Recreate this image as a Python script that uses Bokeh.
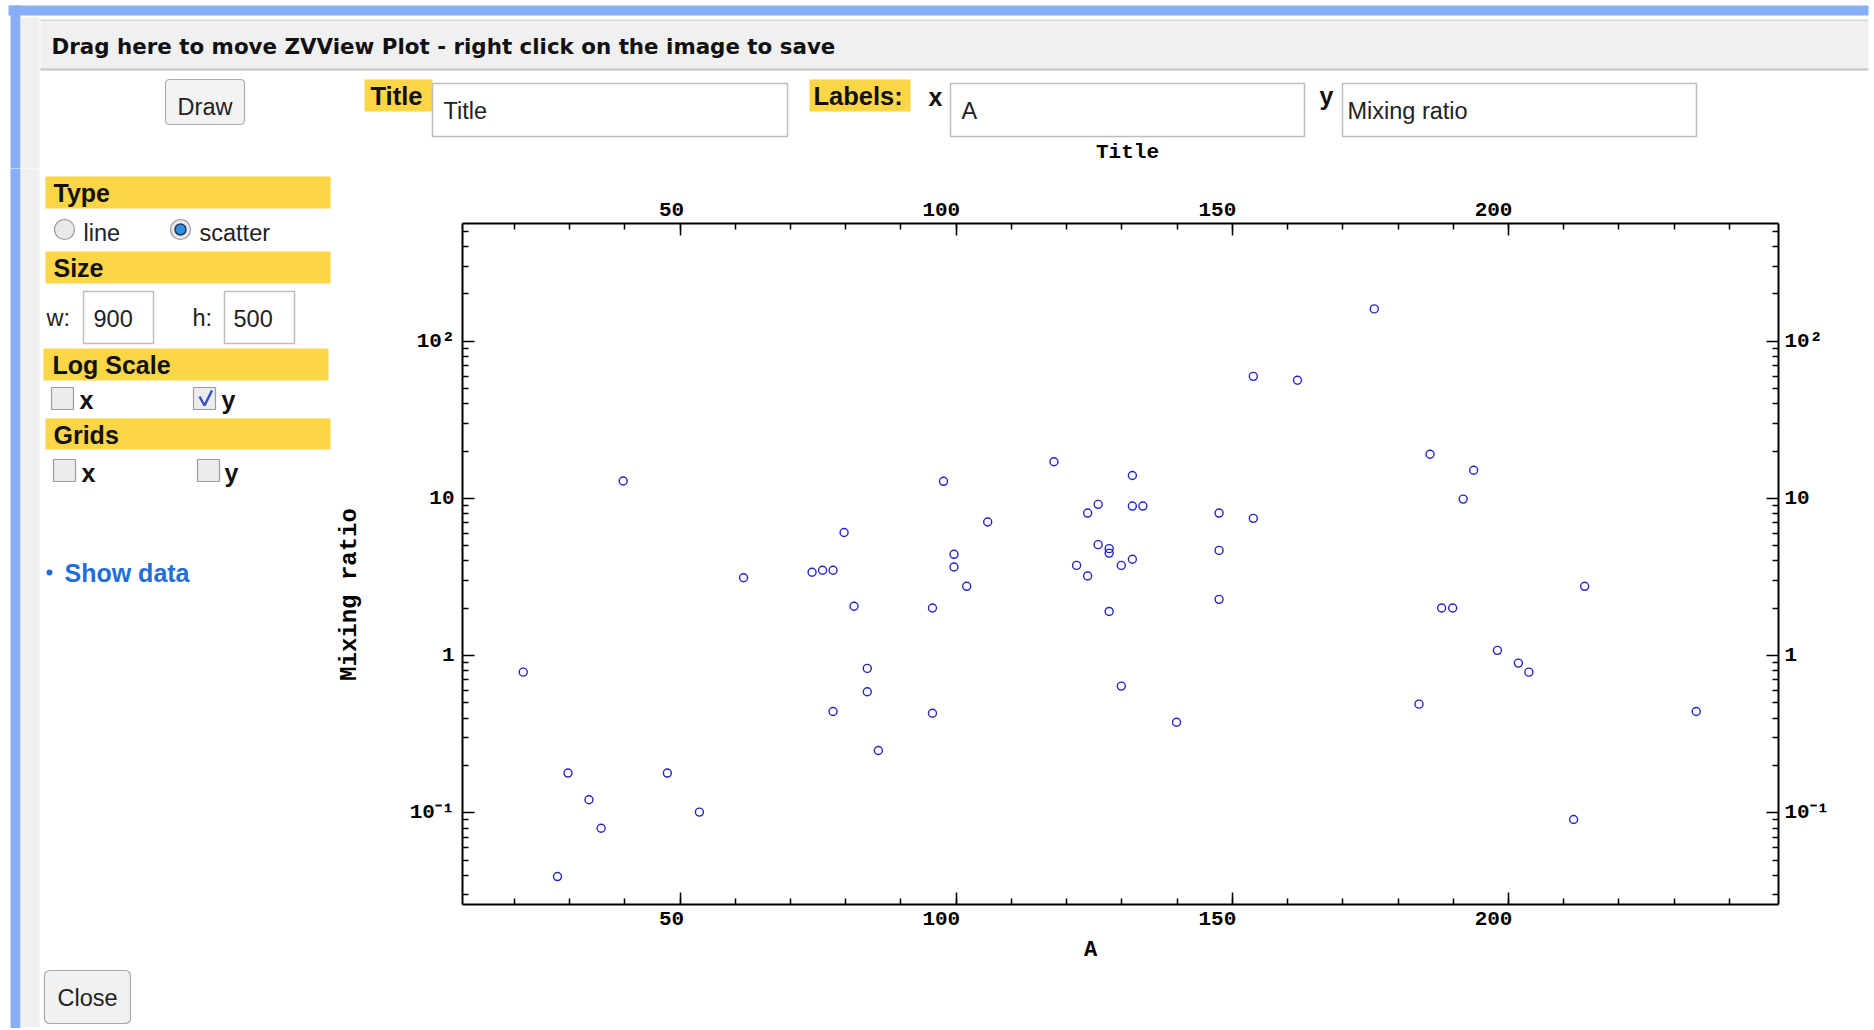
from math import pi
from bokeh.plotting import figure
from bokeh.models import Range1d, LinearAxis, LogAxis, FixedTicker
from bokeh.layouts import column, row
from bokeh.core.properties import value
from bokeh.embed import file_html
from bokeh.resources import INLINE

# ---------------- data ----------------
A_VALUES = [21.6, 27.8, 29.7, 33.5, 35.7, 39.7, 47.7, 53.5, 61.5, 73.9,
            75.8, 77.7, 77.7, 79.7, 81.5, 83.9, 83.9, 85.9, 95.7, 95.7,
            97.7, 99.6, 99.6, 101.9, 105.7, 117.7, 121.8, 123.8, 123.8, 125.7,
            125.7, 127.7, 127.7, 127.7, 129.9, 129.9, 131.9, 131.9, 131.9, 133.8,
            139.9, 147.6, 147.6, 147.6, 153.8, 153.8, 161.8, 175.7, 183.8, 185.8,
            187.9, 189.9, 191.8, 193.7, 198.0, 201.8, 203.7, 211.8, 213.8, 234.0]
MIXING_RATIO = [0.785, 0.0393, 0.179, 0.121, 0.0798, 12.9, 0.179, 0.101, 3.13, 3.39,
                3.49, 3.49, 0.441, 6.07, 2.06, 0.829, 0.589, 0.249, 2.01, 0.43,
                12.85, 4.41, 3.66, 2.76, 7.08, 17.1, 3.75, 8.07, 3.21, 9.17,
                5.08, 4.79, 4.49, 1.91, 3.75, 0.64, 14.0, 8.94, 4.1, 8.94,
                0.377, 8.07, 4.67, 2.28, 59.8, 7.47, 56.5, 160.6, 0.491, 19.1,
                2.01, 2.01, 9.9, 15.1, 1.08, 0.896, 0.785, 0.0906, 2.76, 0.441]

X_MAJOR_TICKS = [50, 100, 150, 200]
X_TICK_LABELS = ["50", "100", "150", "200"]
X_MINOR_TICKS = [20, 30, 40, 50, 60, 70, 80, 90, 100, 110, 120, 130, 140, 150,
                 160, 170, 180, 190, 200, 210, 220, 230, 240]
Y_MAJOR_TICKS = [0.1, 1, 10, 100]
Y_TICK_LABELS = ["10\u207b\u00b9", "1", "10", "10\u00b2"]
Y_MINOR_TICKS = [0.03, 0.04, 0.05, 0.06, 0.07, 0.08, 0.09,
                 0.2, 0.3, 0.4, 0.5, 0.6, 0.7, 0.8, 0.9,
                 2, 3, 4, 5, 6, 7, 8, 9,
                 20, 30, 40, 50, 60, 70, 80, 90,
                 200, 300, 400, 500]
X_RANGE = (10.6, 248.9)
Y_RANGE = (0.0261, 561)

PLOT_TITLE = "Title"
X_LABEL = "A"
Y_LABEL = "Mixing ratio"

# ---------------- styling constants ----------------
SANS = "Liberation Sans"
WIDE = "DejaVu Sans"
MONO = "Liberation Mono"
YELLOW = "#fcd646"
BLUE_FRAME = "#87aef7"
PANEL_GRAY = "#f0f0f0"
POINT_BLUE = "#2424c8"
REG = 23.5   # regular widget text size
HEAD = 25    # bold label text size
TICK_FONT = 21
FRAME_W, FRAME_H = 1316, 681


def ui_fig(x0, y0, w, h):
    f = figure(width=w, height=h, x_range=Range1d(x0, x0 + w), y_range=Range1d(y0 + h, y0),
               output_backend="svg", toolbar_location=None,
               x_axis_location=None, y_axis_location=None,
               min_border=0, min_border_left=0, min_border_right=0,
               min_border_top=0, min_border_bottom=0)
    f.grid.visible = False
    f.outline_line_color = None
    f.background_fill_color = "white"
    f.border_fill_color = "white"
    return f


def Q(f, l, r, t, b, fill, line=None, lw=1.0, radius=0):
    kw = dict(left=[l], right=[r], top=[t], bottom=[b], fill_color=fill,
              line_color=line, line_width=lw)
    if radius:
        kw["border_radius"] = radius
    f.quad(**kw)


def T(f, x, y, s, size=REG, bold=False, color="#222222", align="left", font=SANS, angle=0.0):
    f.text(x=[x], y=[y], text=[s], text_font=value(font), text_font_size=value(f"{size}px"),
           text_font_style="bold" if bold else "normal", text_color=color,
           text_align=align, text_baseline="middle", angle=angle)


def frame_strips(f):
    Q(f, 10, 20, 5, 1030, BLUE_FRAME)
    Q(f, 20, 39, 17, 1027, PANEL_GRAY)


def checkbox(f, l, t, checked=False):
    Q(f, l, l + 22, t, t + 22, "#ececec", "#9c9c9c", 1.2)
    if checked:
        f.line(x=[l + 6, l + 11, l + 18.5], y=[t + 9, t + 18, t + 3], line_color="#3553c4", line_width=2.5)


def radio(f, x, y, selected=False):
    f.scatter(x=[x], y=[y], marker="circle", size=20, fill_color="#e9e9e9",
              line_color="#9a9a9a", line_width=1.2)
    if selected:
        f.scatter(x=[x], y=[y], marker="circle", size=11, fill_color="#2f8fe0",
                  line_color="#203a60", line_width=1.5)


# ---------------- top strip: window title bar + inputs ----------------
top = ui_fig(0, 0, 1870, 168)
Q(top, 8, 1868, 5, 15, BLUE_FRAME)
frame_strips(top)
Q(top, 40, 1868, 19.5, 69, PANEL_GRAY)
top.line(x=[40, 1868], y=[19.8, 19.8], line_color="#d6d6d6", line_width=1.5)
top.line(x=[40, 1868], y=[69, 69], line_color="#c4c4c4", line_width=2)
T(top, 51, 45.5, "Drag here to move ZVView Plot - right click on the image to save", size=21.4, bold=True,
  color="#111111", font=WIDE)

Q(top, 165, 244, 79, 124, "#f3f3f3", "#a9a9a9", 1.2, radius=4)
T(top, 204.5, 106, "Draw", align="center")

Q(top, 364, 432, 79, 111, YELLOW)
T(top, 370, 95, "Title", size=HEAD + 0.5, bold=True, color="#111111")
Q(top, 432, 787, 83, 136, "white", "#bcbcbc", 1.5)
T(top, 443, 110, "Title")

Q(top, 809, 910, 79, 111, YELLOW)
T(top, 813, 95, "Labels:", size=HEAD + 0.5, bold=True, color="#111111")
T(top, 928, 96, "x", size=HEAD, bold=True, color="#111111")
Q(top, 950, 1304, 83, 136, "white", "#bcbcbc", 1.5)
T(top, 961, 110, "A")
T(top, 1319, 95, "y", size=HEAD, bold=True, color="#111111")
Q(top, 1342, 1696, 83, 136, "white", "#bcbcbc", 1.5)
T(top, 1347, 110, "Mixing ratio")

T(top, 1127, 152, PLOT_TITLE, size=21, bold=True, color="#000000", align="center", font=MONO)

# ---------------- left control panel ----------------
left = ui_fig(0, 168, 368, 860)
frame_strips(left)

Q(left, 45, 330, 176, 208, YELLOW)
T(left, 53, 192, "Type", size=HEAD, bold=True, color="#111111")
radio(left, 64, 229)
T(left, 83, 232, "line")
radio(left, 180, 229, selected=True)
T(left, 199, 232, "scatter")

Q(left, 45, 330, 251, 283, YELLOW)
T(left, 53, 267, "Size", size=HEAD, bold=True, color="#111111")
T(left, 46, 317, "w:")
Q(left, 83, 153, 291, 343, "white", "#bcbcbc", 1.5)
T(left, 93, 317.5, "900")
T(left, 192, 317, "h:")
Q(left, 224, 294, 291, 343, "white", "#bcbcbc", 1.5)
T(left, 233, 317.5, "500")

Q(left, 43, 328, 348, 380, YELLOW)
T(left, 52, 364, "Log Scale", size=HEAD, bold=True, color="#111111")
checkbox(left, 51, 387)
T(left, 79, 399, "x", size=HEAD, bold=True, color="#111111")
checkbox(left, 193, 387, checked=True)
T(left, 221, 399, "y", size=HEAD, bold=True, color="#111111")

Q(left, 45, 330, 418, 449, YELLOW)
T(left, 53, 434, "Grids", size=HEAD, bold=True, color="#111111")
checkbox(left, 53, 459)
T(left, 81, 472, "x", size=HEAD, bold=True, color="#111111")
checkbox(left, 197, 459)
T(left, 224, 472, "y", size=HEAD, bold=True, color="#111111")

left.scatter(x=[49], y=[572], marker="circle", size=6, fill_color="#1e6fd9", line_color=None)
T(left, 64, 572, "Show data", size=HEAD, bold=True, color="#1e6fd9")

T(left, 349, 594, Y_LABEL, size=24, bold=True, color="#000000", align="center", font=MONO, angle=pi / 2)

Q(left, 44, 130, 970, 1023, "#f1f1f1", "#a9a9a9", 1.2, radius=5)
T(left, 87, 997, "Close", align="center")

# ---------------- scatter plot ----------------
xt = FixedTicker(ticks=X_MAJOR_TICKS, minor_ticks=X_MINOR_TICKS)
yt = FixedTicker(ticks=Y_MAJOR_TICKS, minor_ticks=Y_MINOR_TICKS)

p = figure(width=1502, height=770, x_range=Range1d(*X_RANGE), y_range=Range1d(*Y_RANGE),
           y_axis_type="log", output_backend="svg", toolbar_location=None,
           min_border_left=94, min_border_right=92, min_border_top=55, min_border_bottom=34)
p.add_layout(LinearAxis(), "above")
p.add_layout(LogAxis(), "right")
p.grid.visible = False
p.outline_line_color = None
p.background_fill_color = "white"
p.border_fill_color = "white"


def style_axis(ax):
    ax.axis_line_color = "black"
    ax.axis_line_width = 2
    ax.major_tick_line_color = "black"
    ax.major_tick_line_width = 1.5
    ax.minor_tick_line_color = "black"
    ax.minor_tick_line_width = 1.5
    ax.major_tick_in = 12
    ax.major_tick_out = 0
    ax.minor_tick_in = 6
    ax.minor_tick_out = 0
    ax.major_label_text_font = MONO
    ax.major_label_text_font_style = "bold"
    ax.major_label_text_font_size = f"{TICK_FONT}px"
    ax.major_label_text_color = "black"


for ax in p.axis:
    style_axis(ax)

# y axes: ticks + labels
for ax in p.yaxis:
    ax.ticker = yt
    ax.major_label_overrides = dict(zip(Y_MAJOR_TICKS, Y_TICK_LABELS))
p.left[0].major_label_standoff = 8
p.right[0].major_label_standoff = 6

# x axes: tick marks on the frame; the labels sit (as in the reference) right-aligned
# just past each tick, drawn by an outer label-only axis.
for ax in p.xaxis:
    ax.ticker = xt
    ax.major_label_overrides = {t: "" for t in X_MAJOR_TICKS}
    ax.major_label_text_font_size = "1px"
    ax.major_label_standoff = 0

px_per_unit = FRAME_W / (X_RANGE[1] - X_RANGE[0])
char_w = 0.6 * TICK_FONT
label_pos = [t + (4 - 0.5 * len(s) * char_w) / px_per_unit for t, s in zip(X_MAJOR_TICKS, X_TICK_LABELS)]
for loc, standoff in (("below", 7), ("above", 8)):
    lab = LinearAxis(ticker=FixedTicker(ticks=label_pos, minor_ticks=[]),
                     major_label_overrides=dict(zip(label_pos, X_TICK_LABELS)))
    style_axis(lab)
    lab.axis_line_color = None
    lab.major_tick_line_color = None
    lab.minor_tick_line_color = None
    lab.major_tick_in = 0
    lab.minor_tick_in = 0
    lab.major_label_standoff = standoff
    p.add_layout(lab, loc)

p.scatter(x=A_VALUES, y=MIXING_RATIO, marker="circle", size=8, fill_color=None,
          line_color=POINT_BLUE, line_width=1.4)

# ---------------- bottom strip under the plot ----------------
bottom = ui_fig(368, 938, 1502, 90)
T(bottom, 1085, 950, X_LABEL, size=22, bold=True, color="#000000", align="center", font=MONO)

layout = column(top, row(left, column(p, bottom, spacing=0), spacing=0), spacing=0)
open("out.html", "w").write(file_html(layout, INLINE))
